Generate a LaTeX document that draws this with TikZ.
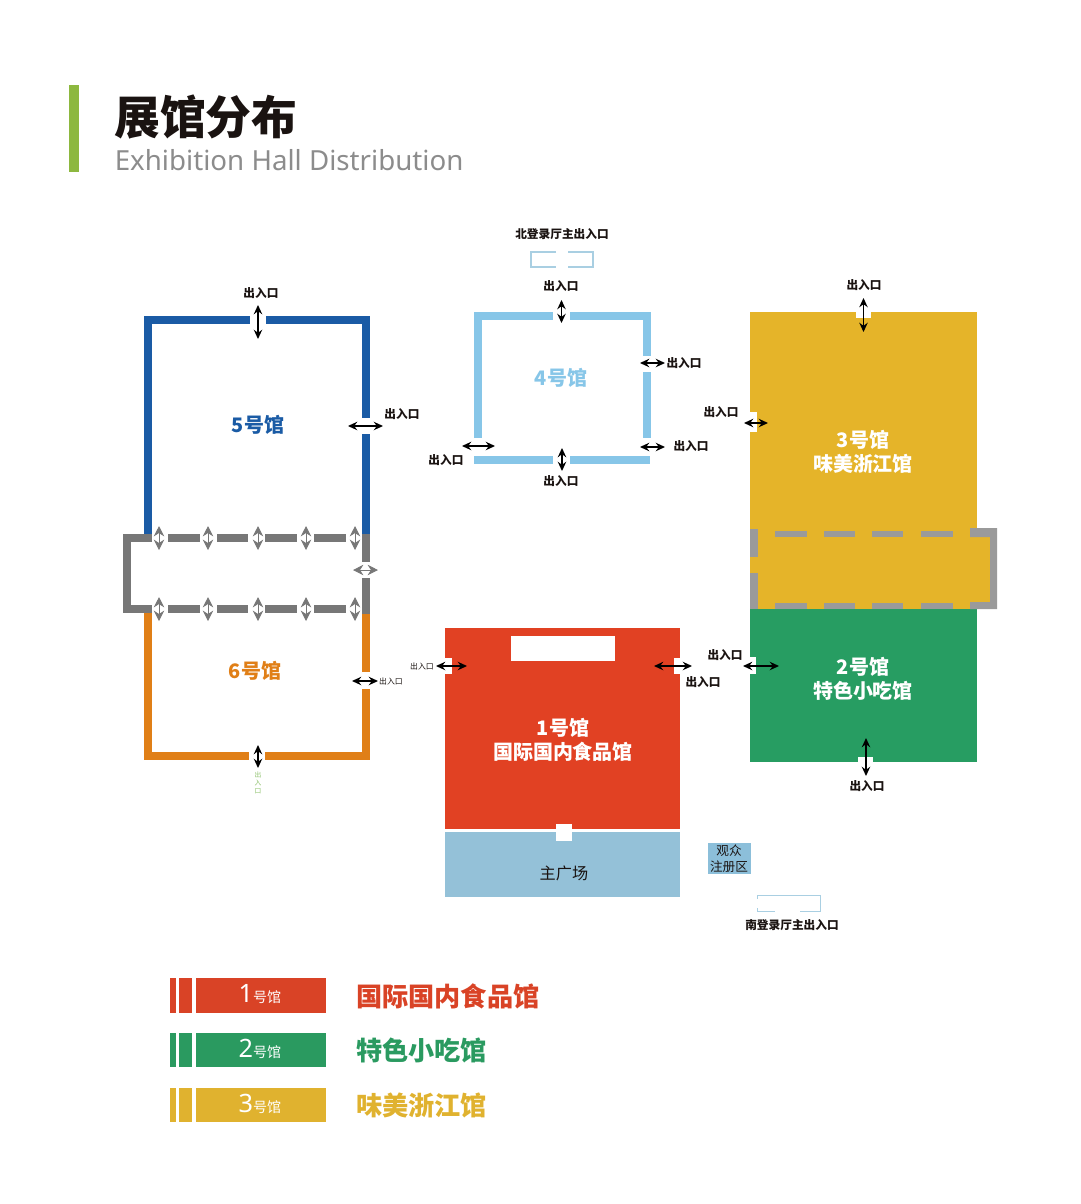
\documentclass[tikz,border=0pt]{standalone}
\usepackage{fontspec}
\usepackage{xcolor}
\usepackage{tikz}
\usetikzlibrary{arrows.meta}
\setmainfont{Noto Sans CJK SC}
\newfontfamily\latinfont{Noto Sans}
\definecolor{barg}{HTML}{8DB83F}
\definecolor{titlec}{HTML}{1A1311}
\definecolor{subc}{HTML}{8C8C8C}
\definecolor{hallone}{HTML}{E14123}
\definecolor{halltwo}{HTML}{279D62}
\definecolor{hallthree}{HTML}{E5B429}
\definecolor{hallfour}{HTML}{87C6E8}
\definecolor{hallfive}{HTML}{1A5BA5}
\definecolor{hallsix}{HTML}{E07F17}
\definecolor{plaza}{HTML}{94C1D8}
\definecolor{regbox}{HTML}{8CBFDA}
\definecolor{gatec}{HTML}{A9CFE2}
\definecolor{linkc}{HTML}{777777}
\definecolor{linkd}{HTML}{9A9A9A}
\definecolor{legone}{HTML}{D94326}
\definecolor{legtwo}{HTML}{2A9A60}
\definecolor{legthree}{HTML}{E0B22F}
\definecolor{doorg}{HTML}{8CC06A}
\begin{document}
\begin{tikzpicture}[x=0.025cm,y=-0.025cm,
  wall/.style={line width=2mm},
  door/.style={{Stealth[length=2.3mm,width=2.1mm]}-{Stealth[length=2.3mm,width=2.1mm]},line width=0.35mm,black},
  linkdoor/.style={{Stealth[length=2.6mm,width=2.6mm]}-{Stealth[length=2.6mm,width=2.6mm]},line width=0.25mm,linkc},
  doorlbl/.style={inner sep=0pt,font=\fontsize{8.3}{10}\selectfont\bfseries,text=titlec},
  doorsmall/.style={inner sep=0pt,font=\fontsize{5.6}{7}\selectfont,text=titlec},
  halllbl/.style={inner sep=0pt,align=center,font=\fontsize{14.2}{17}\selectfont\bfseries},
  legtxt/.style={inner sep=0pt,anchor=west,font=\fontsize{18.6}{22}\selectfont\bfseries}]
\useasboundingbox (0,0) rectangle (1080,1204);
% heading
\fill[barg] (69,85) rectangle (79,172);
\node[inner sep=0pt,anchor=west,text=titlec,font=\fontsize{32.6}{36}\selectfont\bfseries] (title) at (114,117) {展馆分布};
\node[inner sep=0pt,anchor=west,text=subc,font=\fontsize{19.7}{22}\selectfont\latinfont] (subtitle) at (114.5,160) {Exhibition Hall Distribution};

% solid halls
\fill[hallthree] (750,312) rectangle (977,609);
\fill[hallthree] (977,528) rectangle (990,609);
\fill[halltwo] (750,609) rectangle (977,762);
\fill[hallone] (445,628) rectangle (680,829);
\fill[plaza] (445,832) rectangle (680,897);
\fill[white] (511,636) rectangle (615,661);
\foreach \xa/\ya/\xb/\yb in {856/310/871/318,750/412/757/432,750/657/756/674,858/757/873/763,445/658/452/674,674/658/681/674,556/824/572/841}
  \fill[white] (\xa,\ya) rectangle (\xb,\yb);

% outlined halls
\draw[wall,hallfive] (148,534) -- (148,320) -- (250,320) (266,320) -- (366,320) -- (366,418) (366,434) -- (366,534);
\draw[wall,hallsix] (148,613) -- (148,756) -- (249,756) (265,756) -- (366,756) -- (366,689) (366,672) -- (366,614);
\draw[wall,linkc] (152,538) -- (127,538) -- (127,609) -- (152,609);
\draw[wall,linkc] (366,534) -- (366,562) (366,578) -- (366,614);
\foreach \y in {538,609}
  \foreach \xa/\xb in {168/200,217/248,265/297,314/346}
    \draw[wall,linkc] (\xa,\y) -- (\xb,\y);
\draw[wall,hallfour] (478,438) -- (478,315.5) -- (553,315.5) (570,315.5) -- (646.5,315.5) -- (646.5,356) (646.5,372) -- (646.5,438);
\draw[wall,hallfour] (474,459.5) -- (553,459.5) (570,459.5) -- (650,459.5);
\foreach \xa/\xb in {775/807,824/855,872/903,921/953}{
  \draw[line width=1.5mm,linkd] (\xa,534) -- (\xb,534);
  \draw[line width=1.5mm,linkd] (\xa,605.5) -- (\xb,605.5);}
\fill[linkd] (970,528) -- (997,528) -- (997,609) -- (970,609) -- (970,602) -- (990,602) -- (990,537) -- (970,537) -- cycle;
\draw[wall,linkd] (754,529) -- (754,557) (754,573) -- (754,609);

% gates
\draw[line width=0.6mm,gatec] (556,252) -- (531,252) -- (531,267) -- (556,267) (568,252) -- (593,252) -- (593,267) -- (568,267);
\draw[line width=0.3mm,gatec] (775,911.5) -- (757.5,911.5) -- (757.5,908) (757.5,899) -- (757.5,895.5) -- (820.5,895.5) -- (820.5,911.5) -- (800,911.5);
\fill[regbox] (708,843) rectangle (751,874);

% doors
\foreach \n/\xa/\ya/\xb/\yb in {a/258/305/258/339,b/348/426/383/426,c/258/745/258/768,d/352/681/378/681,
  e/561.5/300/561.5/323,f/640/363/665/363,g/462/446/495/446,h/640/447/665/447,i/562/448/562/471,
  j/863.5/298/863.5/332,k/744/423/768/423,l/743/666/779/666,m/866/738/866/776,n/436/666/467/666,o/654/666/692/666}{
  \coordinate (door\n a) at (\xa,\ya);
  \coordinate (door\n b) at (\xb,\yb);
  \draw[door] (door\n a) -- (door\n b);}
\foreach \y in {538,609}
  \foreach \x in {159,208,258,306,355}{
    \coordinate (link\x-\y a) at (\x,\y-12);
    \coordinate (link\x-\y b) at (\x,\y+12);
    \draw[linkdoor] (link\x-\y a) -- (link\x-\y b);}
\coordinate (linkea) at (353,570);
\coordinate (linkeb) at (378,570);
\draw[linkdoor] (linkea) -- (linkeb);

% door labels
\foreach \n/\x/\y in {a/261/293,b/402/414,c/561/286,d/684/363,e/446/460,f/691/446,g/561/481,h/864/285,i/721/412,j/725/655,k/867/786,l/703/682}
  \node[doorlbl] (lbl\n) at (\x,\y) {出入口};
\node[doorsmall] (lblm) at (391,681) {出入口};
\node[doorsmall] (lbln) at (422,666) {出入口};
\node[inner sep=0pt,align=center,text=doorg,font=\fontsize{4.8}{5.7}\selectfont] (lblo) at (258,783) {出\\入\\口};
\node[doorlbl] (north) at (562,234) {北登录厅主出入口};
\node[doorlbl] (south) at (792,925) {南登录厅主出入口};

% hall names
\node[halllbl,text=hallfive] (namefive) at (258,425) {5号馆};
\node[halllbl,text=hallsix] (namesix) at (255,671) {6号馆};
\node[halllbl,text=hallfour] (namefour) at (561,378) {4号馆};
\node[halllbl,text=white] (namethree) at (863,452) {3号馆\\味美浙江馆};
\node[halllbl,text=white] (nametwo) at (863,679) {2号馆\\特色小吃馆};
\node[halllbl,text=white] (nameone) at (563,740) {1号馆\\国际国内食品馆};
\node[inner sep=0pt,text=titlec,font=\fontsize{11.5}{14}\selectfont] (square) at (564,873) {主广场};
\node[inner sep=0pt,align=center,text=titlec,font=\fontsize{9}{11.6}\selectfont] (reg) at (729,859) {观众\\注册区};

% legend
\foreach \c/\yy/\n/\t in {legone/978/1/国际国内食品馆,legtwo/1032.5/2/特色小吃馆,legthree/1087.5/3/味美浙江馆}{
  \fill[\c] (170,\yy) rectangle (176,\yy+34.5);
  \fill[\c] (179,\yy) rectangle (192,\yy+34.5);
  \fill[\c] (196,\yy) rectangle (326,\yy+34.5);
  \node[inner sep=0pt,text=white] (leg\n) at (260,\yy+16) {{\fontsize{18}{20}\selectfont\latinfont\n}{\fontsize{10}{12}\selectfont 号馆}};
  \node[legtxt,text=\c] (legname\n) at (356,\yy+18) {\t};}
\end{tikzpicture}
\end{document}
